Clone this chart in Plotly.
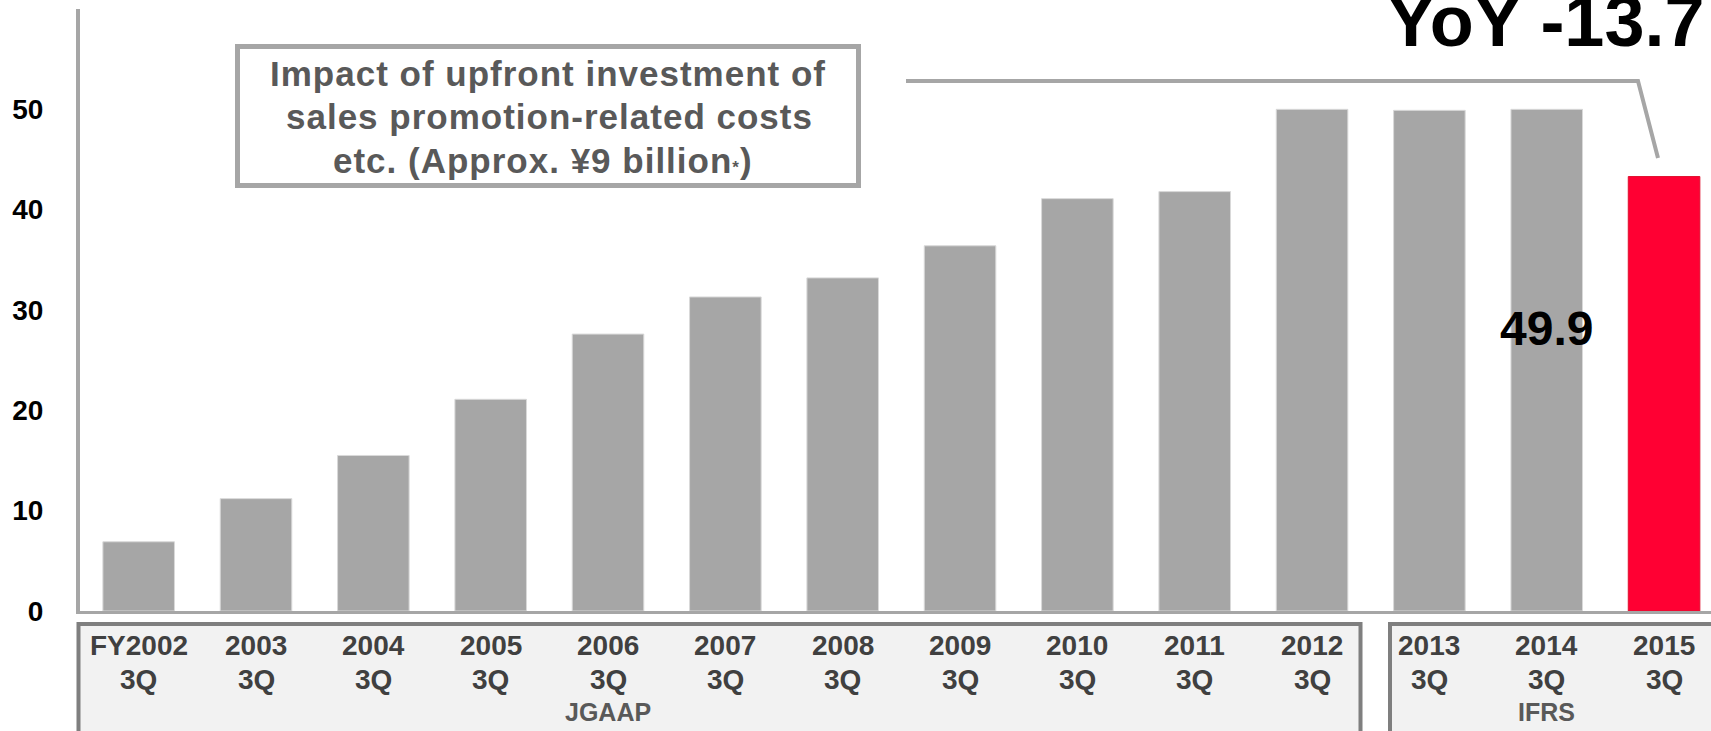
import plotly.graph_objects as go

# ---- data ----
years = ["FY2002", "2003", "2004", "2005", "2006", "2007", "2008",
         "2009", "2010", "2011", "2012", "2013", "2014", "2015"]
quarters = ["3Q", "3Q", "3Q", "3Q", "3Q", "3Q", "3Q",
            "3Q", "3Q", "3Q", "3Q", "3Q", "3Q", "3Q"]
values = [6.9, 11.2, 15.5, 21.1, 27.6, 31.3, 33.2,
          36.4, 41.1, 41.8, 50.0, 49.9, 50.0, 43.3]
highlight = [False] * 13 + [True]
y_ticks = [0, 10, 20, 30, 40, 50]
box_lines = ["Impact of upfront investment of",
             "sales promotion-related costs",
             "etc. (Approx. ¥9 billion<span style='font-size:17px'>*</span>)"]
yoy_text = "YoY -13.7"
bar_label = "49.9"
label_bar = "2014"
groups = ["JGAAP", "IFRS"]
group_centers = ["2006", "2014"]

# ---- layout geometry ----
W, H = 1711, 731
L, R, T, B = 80, 0, 9, 120
PW, PH = W - L - R, H - T - B


def px(x):
    return (x - L) / PW


def py(y):
    return (H - B - y) / PH


FONT = "Liberation Sans, Arial, sans-serif"
GRAY = "#a6a6a6"
RED = "#ff0033"

xidx = list(range(len(years)))

fig = go.Figure()
fig.add_trace(go.Bar(
    x=xidx, y=values,
    marker=dict(color=[RED if h else GRAY for h in highlight],
                line=dict(color=["#e0102e" if h else "#d9d9d9" for h in highlight],
                          width=1)),
    width=0.61,
    hoverinfo="skip",
))

shapes = []
# category boxes
shapes.append(dict(type="rect", xref="paper", yref="paper",
                   x0=px(78.5), x1=px(1360.5), y0=py(624), y1=py(770),
                   line=dict(color="#7f7f7f", width=4), fillcolor="#f2f2f2", layer="below"))
shapes.append(dict(type="rect", xref="paper", yref="paper",
                   x0=px(1390), x1=px(1780), y0=py(624), y1=py(770),
                   line=dict(color="#7f7f7f", width=4), fillcolor="#f2f2f2", layer="below"))
# callout box
shapes.append(dict(type="rect", xref="paper", yref="paper",
                   x0=px(237.5), x1=px(858.5), y0=py(46.5), y1=py(185.5),
                   line=dict(color=GRAY, width=5), fillcolor="white"))
# connector
path = "M {:.5f},{:.5f} L {:.5f},{:.5f} L {:.5f},{:.5f}".format(
    px(906), py(81), px(1638), py(81), px(1658), py(158))
shapes.append(dict(type="path", xref="paper", yref="paper", path=path,
                   line=dict(color=GRAY, width=4)))

ann = []
# category labels
for i, (yr, q) in enumerate(zip(years, quarters)):
    ann.append(dict(x=i, xref="x", y=py(645.5), yref="paper", text=yr,
                    showarrow=False, xanchor="center", yanchor="middle",
                    font=dict(family=FONT, size=28, color="#404040", weight="bold")))
    ann.append(dict(x=i, xref="x", y=py(679.5), yref="paper", text=q,
                    showarrow=False, xanchor="center", yanchor="middle",
                    font=dict(family=FONT, size=28, color="#404040", weight="bold")))
for g, c in zip(groups, group_centers):
    ann.append(dict(x=years.index(c), xref="x", y=py(712), yref="paper", text=g,
                    showarrow=False, xanchor="center", yanchor="middle",
                    font=dict(family=FONT, size=25, color="#595959", weight="bold")))
# callout text
line_x = [548, 549, 543]
line_y = [73.5, 117, 160]
for t, lx, ly in zip(box_lines, line_x, line_y):
    ann.append(dict(x=px(lx), xref="paper", y=py(ly), yref="paper",
                    text="<span style='letter-spacing:1px'>" + t + "</span>",
                    showarrow=False, xanchor="center", yanchor="middle",
                    font=dict(family=FONT, size=35, color="#595959", weight="bold")))
# YoY
ann.append(dict(x=px(1707), xref="paper", y=py(21), yref="paper", text=yoy_text,
                showarrow=False, xanchor="right", yanchor="middle",
                font=dict(family=FONT, size=72, color="black", weight="bold")))
# 49.9
ann.append(dict(x=years.index(label_bar), xref="x", y=py(329), yref="paper", text=bar_label,
                showarrow=False, xanchor="center", yanchor="middle",
                font=dict(family=FONT, size=48, color="black", weight="bold")))

fig.update_layout(
    width=W, height=H,
    margin=dict(l=L, r=R, t=T, b=B, pad=0),
    paper_bgcolor="white", plot_bgcolor="white",
    showlegend=False,
    bargap=0.39,
    shapes=shapes,
    annotations=ann,
    xaxis=dict(range=[-0.5, 13.4], showticklabels=False, ticks="",
               showgrid=False, zeroline=False,
               showline=True, linecolor=GRAY, linewidth=3, fixedrange=True),
    yaxis=dict(range=[0, 60], tickvals=y_ticks, showgrid=False, zeroline=False,
               showline=True, linecolor=GRAY, linewidth=4,
               ticks="outside", ticklen=27, tickcolor="rgba(0,0,0,0)",
               tickfont=dict(family=FONT, size=28, color="black", weight="bold"),
               fixedrange=True),
)

fig.write_html("out.html", config={"displayModeBar": False},
               post_script="document.body.style.margin='0';document.body.style.overflow='hidden';")
